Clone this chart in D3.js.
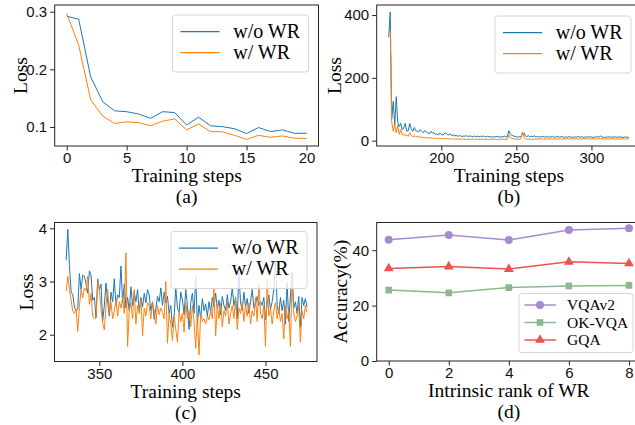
<!DOCTYPE html>
<html>
<head>
<meta charset="utf-8">
<script src="https://cdn.jsdelivr.net/npm/d3@7"></script>
<style>
  body { margin: 0; background: #fff; }
  svg { display: block; font-family: "Liberation Serif", "Times New Roman", serif; }
  .tick text { font-size: 15px; fill: #111; }
  .tick line { stroke: #222; }
</style>
</head>
<body>
<svg id="chart" width="635" height="425"></svg>
<script>
// (a) loss of the first 20 steps
const lossA_wo = [0.292, 0.287, 0.187, 0.144, 0.128, 0.1265, 0.1225, 0.115, 0.1265, 0.125, 0.1035,
    0.117, 0.102, 0.1005, 0.097, 0.0885, 0.099, 0.092, 0.095, 0.089, 0.089];
const lossA_w = [0.297, 0.242, 0.147, 0.119, 0.106, 0.109, 0.1075, 0.102, 0.11, 0.114, 0.095,
    0.105, 0.092, 0.0915, 0.0855, 0.0785, 0.0855, 0.082, 0.0845, 0.0805, 0.08];

// (b) steps 165 .. 325
const startB = 165;
const lossB_wo = [
    330, 410, 70, 125, 50, 140, 60, 45, 55, 35,
    40, 55, 30, 32, 55, 38, 30, 42, 32, 30,
    28, 35, 30, 25, 32, 28, 25, 22, 30, 24,
    26, 20, 22, 18, 24, 20, 18, 22, 25, 20,
    18, 22, 16, 18, 15, 17, 14, 16, 15, 13,
    15, 14, 16, 13, 15, 14, 12, 15, 13, 14,
    12, 14, 13, 15, 12, 13, 14, 12, 13, 11,
    13, 12, 14, 12, 11, 13, 12, 14, 12, 13,
    32, 20, 17, 15, 14, 12, 11, 13, 12, 20,
    25, 15, 13, 16, 12, 14, 13, 15, 12, 13,
    11, 13, 12, 14, 11, 12, 13, 11, 12, 14,
    12, 11, 13, 12, 11, 13, 12, 10, 12, 11,
    13, 11, 12, 10, 12, 11, 13, 12, 11, 12,
    10, 12, 11, 13, 11, 12, 10, 12, 11, 13,
    11, 15, 12, 11, 10, 12, 11, 13, 10, 12,
    11, 12, 10, 13, 11, 12, 10, 11, 12, 11,
    10];
const lossB_w = [
    355, 350, 60, 30, 50, 25, 50, 20, 35, 18,
    22, 15, 18, 14, 25, 16, 13, 15, 12, 14,
    11, 12, 10, 11, 9, 10, 9, 8, 9, 8,
    8, 7, 8, 7, 6, 7, 6, 7, 6, 6,
    6, 5, 6, 5, 5, 6, 5, 4, 5, 5,
    5, 4, 5, 4, 5, 4, 5, 4, 5, 4,
    4, 5, 4, 5, 4, 4, 5, 4, 4, 5,
    4, 5, 4, 4, 5, 4, 5, 4, 5, 4,
    18, 10, 7, 6, 5, 5, 4, 5, 6, 28,
    12, 6, 5, 5, 4, 5, 4, 5, 4, 5,
    5, 6, 5, 6, 5, 5, 6, 5, 6, 5,
    6, 5, 6, 5, 5, 6, 5, 6, 5, 6,
    5, 6, 5, 6, 5, 6, 5, 5, 6, 5,
    6, 5, 6, 5, 6, 5, 6, 5, 6, 5,
    6, 7, 6, 5, 6, 5, 6, 5, 6, 5,
    6, 5, 6, 5, 6, 5, 6, 5, 6, 5,
    6];

// (c) steps 330 .. 475
const startC = 330;
const lossC_wo = [
    3.40, 3.98, 3.30, 2.80, 2.75, 2.52, 2.45, 2.48, 3.15, 2.85,
    3.12, 3.10, 2.95, 2.78, 3.20, 3.12, 2.65, 2.70, 2.32, 3.05,
    2.85, 2.95, 2.26, 2.55, 2.97, 2.62, 2.35, 2.80, 2.62, 3.05,
    2.55, 2.75, 2.70, 3.29, 2.60, 2.95, 2.50, 2.70, 2.45, 2.90,
    2.55, 2.80, 2.62, 2.85, 2.45, 2.70, 2.52, 2.78, 2.60, 2.85,
    2.75, 2.45, 2.62, 2.29, 2.50, 2.72, 2.62, 2.88, 2.55, 2.80,
    2.60, 2.72, 2.40, 2.55, 2.14, 2.35, 2.88, 2.50, 2.42, 2.80,
    2.65, 2.38, 2.85, 2.55, 2.10, 2.60, 2.78, 2.40, 3.10, 2.20,
    2.55, 2.30, 2.68, 2.45, 2.58, 2.35, 2.62, 2.42, 2.70, 2.52,
    2.78, 2.48, 2.65, 2.38, 2.72, 2.55, 2.45, 2.75, 2.50, 2.62,
    2.88, 2.55, 2.70, 2.30, 3.17, 2.60, 2.45, 2.80, 2.52, 2.68,
    2.40, 2.62, 2.85, 2.50, 2.58, 2.72, 2.55, 2.62, 2.55, 2.70,
    2.28, 2.58, 2.75, 2.48, 2.62, 2.85, 3.39, 2.55, 2.40, 2.70,
    2.45, 2.65, 2.20, 2.98, 2.25, 2.72, 3.18, 2.50, 2.62, 2.40,
    2.72, 2.14, 2.70, 2.55, 2.68, 2.52];
const lossC_w = [
    2.82, 3.10, 2.85, 2.65, 2.44, 2.40, 2.48, 2.06, 2.53, 2.85,
    2.70, 2.88, 2.82, 3.10, 2.57, 2.78, 2.35, 2.30, 2.32, 3.00,
    2.85, 2.50, 2.22, 2.09, 2.55, 2.85, 2.40, 2.60, 2.30, 2.45,
    2.65, 2.35, 2.62, 2.50, 2.70, 2.40, 3.54, 1.78, 2.45, 2.60,
    2.30, 2.85, 2.20, 2.55, 2.40, 2.65, 1.98, 2.50, 2.35, 2.60,
    2.55, 2.30, 2.62, 2.45, 2.20, 2.55, 2.38, 2.50, 2.42, 2.30,
    3.00, 1.84, 2.40, 2.20, 1.89, 2.35, 2.10, 1.86, 2.45, 2.25,
    2.40, 2.05, 2.60, 2.30, 2.45, 2.15, 2.55, 2.25, 1.74, 2.35,
    1.62, 2.40, 2.25, 2.30, 2.20, 2.35, 2.28, 2.45, 2.30, 2.87,
    1.98, 2.55, 2.30, 2.60, 2.15, 2.45, 2.35, 2.62, 2.20, 2.40,
    2.55, 2.30, 2.68, 2.10, 2.50, 2.40, 2.62, 2.25, 2.55, 2.35,
    2.60, 2.20, 2.45, 2.35, 2.70, 2.25, 2.97, 2.40, 2.30, 2.55,
    1.78, 3.05, 2.35, 2.50, 2.20, 2.45, 2.60, 2.30, 2.50, 2.25,
    2.40, 1.92, 2.55, 2.30, 2.45, 1.78, 3.07, 2.40, 2.25, 2.35,
    2.55, 1.86, 2.45, 2.30, 2.55, 2.42];

// (d) accuracy vs intrinsic rank
const ranks = [0, 2, 4, 6, 8];
const accVQAv2 = [43.8, 45.5, 43.7, 47.3, 47.9];
const accOKVQA = [25.6, 24.6, 26.5, 27.1, 27.3];
const accGQA = [33.4, 34.1, 33.2, 35.8, 35.2];

const blue = '#1f77b4', orange = '#ff7f0e';

const svg = d3.select('#chart');

// one subplot: ticks, labels and a clipped plotting area
function makeAxes(p, id) {
    const x = d3.scaleLinear().domain(p.xDomain).range([p.left, p.right]);
    const y = d3.scaleLinear().domain(p.yDomain).range([p.bottom, p.top]);

    svg.append('clipPath').attr('id', id)
        .append('rect')
        .attr('x', p.left).attr('y', p.top)
        .attr('width', p.right - p.left).attr('height', p.bottom - p.top);

    const xAxis = svg.append('g')
        .attr('transform', 'translate(0,' + p.bottom + ')')
        .call(d3.axisBottom(x).tickValues(p.xTicks).tickSize(4.5).tickPadding(2)
            .tickFormat(p.xFormat || d3.format('d')));
    xAxis.select('.domain').remove();

    const yAxis = svg.append('g')
        .attr('transform', 'translate(' + p.left + ',0)')
        .call(d3.axisLeft(y).tickValues(p.yTicks).tickSize(4.5).tickPadding(3)
            .tickFormat(p.yFormat || d3.format('d')));
    yAxis.select('.domain').remove();

    const plot = svg.append('g').attr('clip-path', 'url(#' + id + ')');

    // x label and panel letter
    svg.append('text')
        .text(p.xLabel)
        .attr('x', (p.left + p.right) / 2)
        .attr('y', p.bottom + 36)
        .attr('text-anchor', 'middle')
        .attr('font-size', '19.5px');
    svg.append('text')
        .text(p.letter)
        .attr('x', (p.left + p.right) / 2)
        .attr('y', p.bottom + 57)
        .attr('text-anchor', 'middle')
        .attr('font-size', '19.5px');

    // y label
    svg.append('text')
        .text(p.yLabel)
        .attr('transform', 'translate(' + p.yLabelX + ',' + (p.top + p.bottom) / 2 + ') rotate(-90)')
        .attr('text-anchor', 'middle')
        .attr('font-size', '19.5px');

    return { x, y, plot, p };
}

function drawFrame(ax) {
    const p = ax.p;
    svg.append('rect')
        .attr('x', p.left).attr('y', p.top)
        .attr('width', p.right - p.left).attr('height', p.bottom - p.top)
        .attr('fill', 'none')
        .attr('stroke', '#222')
        .attr('stroke-width', 1);
}

function addLine(ax, values, start, color, width) {
    const line = d3.line()
        .x((d, i) => ax.x(start + i))
        .y(d => ax.y(d));
    ax.plot.append('path')
        .datum(values)
        .attr('d', line)
        .attr('fill', 'none')
        .attr('stroke', color)
        .attr('stroke-width', width || 1)
        .attr('stroke-linejoin', 'round');
}

// the two entry legend used in (a), (b), (c)
function lossLegend(ax) {
    const p = ax.p;
    const lx = p.right - 146, ly = p.top + p.legendDy;
    const g = svg.append('g');
    g.append('rect')
        .attr('x', lx).attr('y', ly)
        .attr('width', 136).attr('height', 57)
        .attr('rx', 3)
        .attr('fill', 'white').attr('fill-opacity', 0.8)
        .attr('stroke', '#d6d6d6');
    [['w/o WR', blue], ['w/ WR', orange]].forEach((e, i) => {
        const yy = ly + 16.7 + i * 21;
        g.append('line')
            .attr('x1', lx + 8).attr('x2', lx + 47)
            .attr('y1', yy).attr('y2', yy)
            .attr('stroke', e[1]).attr('stroke-width', 1.2);
        g.append('text')
            .text(e[0])
            .attr('x', lx + 60.7)
            .attr('y', yy + 6)
            .attr('font-size', '20px');
    });
}

// ---- (a)
const axA = makeAxes({
    left: 54.7, right: 318.5, top: 5, bottom: 146,
    xDomain: [-1, 21], yDomain: [0.067, 0.3116],
    xTicks: [0, 5, 10, 15, 20], yTicks: [0.1, 0.2, 0.3],
    yFormat: d3.format('.1f'),
    xLabel: 'Training steps', yLabel: 'Loss', letter: '(a)', yLabelX: 26.5, legendDy: 10
}, 'clipA');
addLine(axA, lossA_wo, 0, blue);
addLine(axA, lossA_w, 0, orange);
drawFrame(axA);
lossLegend(axA);

// ---- (b)
const axB = makeAxes({
    left: 376.7, right: 641, top: 5, bottom: 146,
    xDomain: [157, 333], yDomain: [-17, 432],
    xTicks: [200, 250, 300], yTicks: [0, 200, 400],
    xLabel: 'Training steps', yLabel: 'Loss', letter: '(b)', yLabelX: 340.5, legendDy: 11
}, 'clipB');
addLine(axB, lossB_wo, startB, blue);
addLine(axB, lossB_w, startB, orange);
drawFrame(axB);
lossLegend(axB);

// ---- (c)
const axC = makeAxes({
    left: 54.5, right: 317, top: 222.5, bottom: 361.5,
    xDomain: [323, 481], yDomain: [1.496, 4.11],
    xTicks: [350, 400, 450], yTicks: [2, 3, 4],
    xLabel: 'Training steps', yLabel: 'Loss', letter: '(c)', yLabelX: 33, legendDy: 9
}, 'clipC');
addLine(axC, lossC_wo, startC, blue);
addLine(axC, lossC_w, startC, orange);
drawFrame(axC);
lossLegend(axC);

// ---- (d)
const axD = makeAxes({
    left: 376.7, right: 641, top: 222.5, bottom: 361,
    xDomain: [-0.4, 8.4], yDomain: [0, 50],
    xTicks: ranks, yTicks: [0, 20, 40],
    xLabel: 'Intrinsic rank of WR', yLabel: 'Accuracy(%)', letter: '(d)', yLabelX: 347
}, 'clipD');

const accSeries = [
    { name: 'VQAv2', values: accVQAv2, color: '#a68bd0', marker: d3.symbolCircle, size: 50 },
    { name: 'OK-VQA', values: accOKVQA, color: '#8db88d', marker: d3.symbolSquare, size: 44 },
    { name: 'GQA', values: accGQA, color: '#e8554e', marker: d3.symbolTriangle, size: 42 }
];

accSeries.forEach(s => {
    const line = d3.line()
        .x((d, i) => axD.x(ranks[i]))
        .y(d => axD.y(d));
    axD.plot.append('path')
        .datum(s.values)
        .attr('d', line)
        .attr('fill', 'none')
        .attr('stroke', s.color)
        .attr('stroke-width', 1.5);
    axD.plot.selectAll(null)
        .data(s.values)
        .enter()
        .append('path')
        .attr('d', d3.symbol().type(s.marker).size(s.size))
        .attr('transform', (d, i) => 'translate(' + axD.x(ranks[i]) + ',' + axD.y(d) + ')')
        .attr('fill', s.color);
});
drawFrame(axD);

// legend of (d)
const legD = svg.append('g');
legD.append('rect')
    .attr('x', 519).attr('y', 293.5)
    .attr('width', 114).attr('height', 59)
    .attr('rx', 3)
    .attr('fill', 'white').attr('fill-opacity', 0.8)
    .attr('stroke', '#d6d6d6');
accSeries.forEach((s, i) => {
    const yy = 305 + i * 17.5;
    legD.append('line')
        .attr('x1', 524.5).attr('x2', 556)
        .attr('y1', yy).attr('y2', yy)
        .attr('stroke', s.color).attr('stroke-width', 1.5);
    legD.append('path')
        .attr('d', d3.symbol().type(s.marker).size(s.size))
        .attr('transform', 'translate(540,' + yy + ')')
        .attr('fill', s.color);
    legD.append('text')
        .text(s.name)
        .attr('x', 567)
        .attr('y', yy + 5)
        .attr('font-size', '15.5px');
});
</script>
</body>
</html>
